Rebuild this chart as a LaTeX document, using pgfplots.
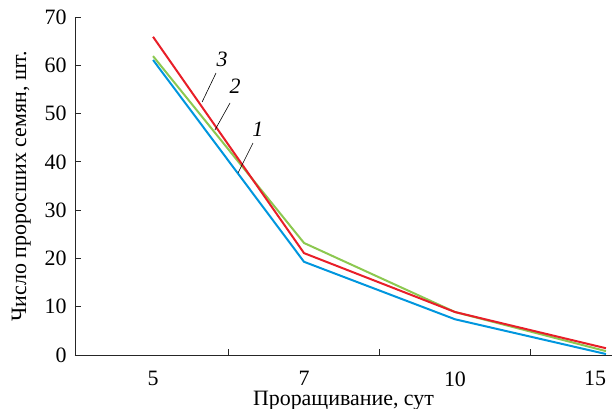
\documentclass[border=0pt]{standalone}
\usepackage{fontspec}
\setmainfont{Liberation Serif}
\usepackage{pgfplots}
\pgfplotsset{compat=1.18}
\definecolor{c1}{RGB}{0,150,222}
\definecolor{c2}{RGB}{140,200,80}
\definecolor{c3}{RGB}{232,30,40}
\newcommand{\bigf}{\fontsize{22}{25}\selectfont}

\begin{document}
\begin{tikzpicture}
\begin{axis}[
  scale only axis,
  width=537bp, height=338bp,
  xmin=-0.517, xmax=3.04,
  ymin=0, ymax=70,
  axis x line=bottom, axis y line=left,
  axis line style={-, line width=0.9bp, black!85},
  xtick={0.5,1.5,2.5},
  xticklabels={},
  extra x ticks={0,1,2,3},
  extra x tick labels={5,7,10,\makebox[0pt][r]{15}},
  extra x tick style={tick style={draw=none}, xticklabel style={yshift=-13bp}},
  ytick={0,10,...,70},
  major tick length=6bp,
  tick align=inside,
  tick style={black!85, line width=0.8bp},
  /pgf/number format/assume math mode=true,
  tick label style={font=\bigf},
  yticklabel style={xshift=-5bp},
  label style={font=\bigf},
  xlabel={Проращивание, сут},
  ylabel={Число проросших семян, шт.},
  xlabel style={yshift=2bp},
  ylabel style={yshift=7bp},
  clip=false,
]
\addplot[c1, line width=2bp] coordinates {(0,61.1)(1,19.3)(2,7.4)(3,0.2)};
\addplot[c2, line width=2bp] coordinates {(0,61.9)(1,23.2)(2,8.9)(3,0.8)};
\addplot[c3, line width=2bp] coordinates {(0,65.9)(1,21.1)(2,8.9)(3,1.4)};

\draw[black, line width=0.6bp] (axis cs:0.417,58.4) -- (axis cs:0.325,52.4);
\draw[black, line width=0.6bp] (axis cs:0.51,52.2) -- (axis cs:0.41,46.6);
\draw[black, line width=0.6bp] (axis cs:0.662,43.9) -- (axis cs:0.563,37.7);
\node[font=\bigf\itshape] at (axis cs:0.457,61.3) {3};
\node[font=\bigf\itshape] at (axis cs:0.543,55.6) {2};
\node[font=\bigf\itshape] at (axis cs:0.695,46.7) {1};
\end{axis}
\pgfresetboundingbox
\path[use as bounding box] ([xshift=-75bp,yshift=-54bp]current axis.south west) rectangle ([xshift=539bp,yshift=355bp]current axis.south west);
\end{tikzpicture}
\end{document}
